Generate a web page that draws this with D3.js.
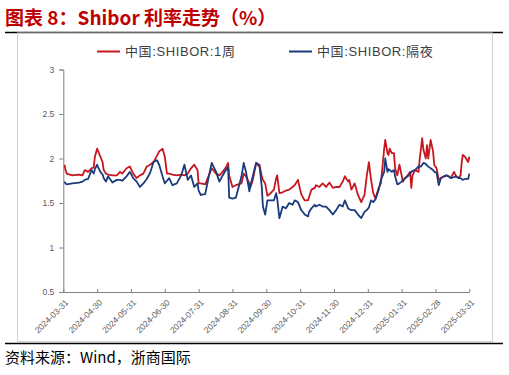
<!DOCTYPE html>
<html><head><meta charset="utf-8">
<script src="https://cdn.jsdelivr.net/npm/d3@7"></script>
<style>
html,body{margin:0;padding:0;background:#fff;}
svg{display:block;}
</style></head>
<body>
<svg id="chart" width="509" height="375"></svg>
<script>
const titleText = "图表 8：Shibor 利率走势（%）";
const sourceText = "资料来源：Wind，浙商国际";
const seriesNames = ["中国:SHIBOR:1周", "中国:SHIBOR:隔夜"];
const tickLabels = ["2024-03-31","2024-04-30","2024-05-31","2024-06-30","2024-07-31","2024-08-31","2024-09-30","2024-10-31","2024-11-30","2024-12-31","2025-01-31","2025-02-28","2025-03-31"];
const yTicks = [0.5, 1, 1.5, 2, 2.5, 3];

const dates = [
"2024-04-01","2024-04-02","2024-04-03","2024-04-08","2024-04-14","2024-04-17","2024-04-19","2024-04-22","2024-04-25","2024-04-27","2024-04-28","2024-04-30",
"2024-05-01","2024-05-03","2024-05-05","2024-05-06","2024-05-08","2024-05-10","2024-05-14","2024-05-18","2024-05-21","2024-05-23","2024-05-27","2024-05-30",
"2024-06-02","2024-06-05","2024-06-08","2024-06-11","2024-06-14","2024-06-17","2024-06-20","2024-06-23","2024-06-25","2024-06-28","2024-06-30",
"2024-07-02","2024-07-04","2024-07-07","2024-07-11","2024-07-15","2024-07-18","2024-07-21","2024-07-24","2024-07-27","2024-07-30","2024-07-31",
"2024-08-02","2024-08-06","2024-08-09","2024-08-12","2024-08-16","2024-08-19","2024-08-22","2024-08-25","2024-08-27","2024-08-28","2024-08-31",
"2024-09-03","2024-09-08","2024-09-10","2024-09-12","2024-09-15","2024-09-16","2024-09-18","2024-09-21","2024-09-24","2024-09-26","2024-09-27","2024-09-29",
"2024-10-01","2024-10-04","2024-10-07","2024-10-09","2024-10-10","2024-10-12","2024-10-15","2024-10-18","2024-10-21","2024-10-24","2024-10-26","2024-10-29","2024-10-31",
"2024-11-01","2024-11-03","2024-11-04","2024-11-07","2024-11-08","2024-11-10","2024-11-13","2024-11-14","2024-11-17","2024-11-20","2024-11-23","2024-11-26","2024-11-29",
"2024-12-02","2024-12-05","2024-12-08","2024-12-10","2024-12-13","2024-12-14","2024-12-16","2024-12-19","2024-12-22","2024-12-25","2024-12-28","2024-12-30",
"2025-01-01","2025-01-03","2025-01-05","2025-01-07","2025-01-10","2025-01-12","2025-01-15","2025-01-16","2025-01-18","2025-01-19","2025-01-20","2025-01-22","2025-01-24","2025-01-25","2025-01-27","2025-01-29","2025-01-31",
"2025-02-01","2025-02-03","2025-02-05","2025-02-07","2025-02-08","2025-02-09","2025-02-11","2025-02-14","2025-02-15","2025-02-16","2025-02-17","2025-02-18","2025-02-20","2025-02-21","2025-02-22","2025-02-23","2025-02-24","2025-02-26","2025-02-27",
"2025-03-01","2025-03-03","2025-03-05","2025-03-08","2025-03-10","2025-03-12","2025-03-14","2025-03-17","2025-03-19","2025-03-21","2025-03-23","2025-03-24","2025-03-25","2025-03-27","2025-03-30","2025-03-31"
];

const shibor1W = [
1.93,1.87,1.83,1.81,1.82,1.81,1.87,1.85,1.89,1.90,2.02,2.11,
2.08,2.02,1.96,1.87,1.83,1.82,1.81,1.81,1.85,1.83,1.89,1.91,
1.83,1.78,1.81,1.83,1.91,1.93,1.96,2.03,2.08,2.11,2.02,
1.83,1.83,1.82,1.81,1.82,1.81,1.83,1.89,1.93,1.87,1.72,
1.72,1.71,1.80,1.89,1.83,1.81,1.85,1.90,1.95,1.81,1.68,
1.70,1.72,1.83,1.80,1.72,1.68,1.76,1.95,1.93,1.80,1.76,1.72,
1.58,1.61,1.65,1.78,1.81,1.61,1.62,1.64,1.65,1.68,1.70,1.76,1.65,
1.60,1.55,1.53,1.53,1.57,1.65,1.67,1.70,1.68,1.72,1.68,1.73,1.67,
1.68,1.68,1.74,1.80,1.74,1.76,1.65,1.72,1.59,1.51,1.59,1.80,
1.96,1.76,1.61,1.55,1.67,1.72,2.11,2.21,2.06,2.04,2.11,2.06,2.06,1.89,1.81,1.93,1.81,
1.74,1.78,1.81,1.85,1.67,1.81,1.87,1.85,2.00,2.11,2.23,2.10,2.00,2.15,2.00,2.10,2.21,2.08,1.93,
1.89,1.76,1.78,1.80,1.81,1.80,1.78,1.85,1.80,1.78,1.81,1.95,2.04,2.02,1.96,2.02
];

const shiborON = [
1.74,1.72,1.71,1.72,1.73,1.74,1.76,1.77,1.87,1.83,1.88,1.93,
1.90,1.85,1.82,1.78,1.74,1.80,1.73,1.76,1.76,1.75,1.80,1.85,
1.78,1.74,1.68,1.72,1.77,1.84,1.96,1.98,1.93,1.80,1.72,
1.75,1.78,1.70,1.72,1.81,1.93,1.76,1.81,1.68,1.72,1.64,
1.59,1.60,1.78,1.95,1.85,1.74,1.81,1.87,1.90,1.56,1.55,
1.56,1.80,1.95,1.85,1.63,1.70,1.80,1.95,1.91,1.68,1.46,1.37,
1.53,1.53,1.53,1.61,1.55,1.33,1.46,1.44,1.50,1.48,1.53,1.51,1.45,
1.42,1.39,1.37,1.35,1.40,1.44,1.48,1.46,1.48,1.46,1.46,1.42,1.37,
1.42,1.48,1.46,1.53,1.44,1.43,1.42,1.42,1.37,1.33,1.40,1.42,
1.45,1.53,1.51,1.54,1.65,1.76,1.85,2.00,1.85,1.88,1.87,1.85,1.87,1.80,1.71,1.72,1.74,
1.76,1.78,1.80,1.83,1.85,1.86,1.87,1.91,1.91,1.91,1.93,1.95,1.94,1.92,1.91,1.90,1.89,1.87,1.85,
1.84,1.70,1.78,1.80,1.81,1.80,1.78,1.79,1.80,1.78,1.78,1.77,1.76,1.77,1.77,1.83
];

const colors = ["#C8161E", "#1B3A7C"];

const svg = d3.select("#chart");
svg.append("rect").attr("width",509).attr("height",375).attr("fill","#fff");

// title
svg.append("text").attr("x",5).attr("y",25)
  .attr("font-family","'Noto Sans CJK SC', sans-serif").attr("font-size",19).attr("font-weight","bold")
  .attr("fill","#C00000").text(titleText);

// frame lines
svg.append("line").attr("x1",5).attr("x2",503).attr("y1",32.5).attr("y2",32.5).attr("stroke","#000").attr("stroke-width",1.3);
svg.append("rect").attr("x",17.5).attr("y",33).attr("width",475).attr("height",308.5).attr("fill","none").attr("stroke","#d0d0d0").attr("stroke-width",1);
svg.append("line").attr("x1",5).attr("x2",503).attr("y1",343.5).attr("y2",343.5).attr("stroke","#000").attr("stroke-width",1.3);

svg.append("text").attr("x",5).attr("y",363)
  .attr("font-family","'Noto Sans CJK SC', sans-serif").attr("font-size",15)
  .attr("fill","#000").text(sourceText);

// scales
const x0 = 63.3, x1 = 469.3, yTop = 69.5, yBot = 292;
const x = d3.scaleLinear().domain([0, tickLabels.length - 1]).range([x0, x1]);
const y = d3.scaleLinear().domain([0.5, 3]).range([yBot, yTop]);

function monthPos(s) {
  const [yy, mm, dd] = s.split("-").map(Number);
  const days = new Date(yy, mm, 0).getDate();
  return (yy - 2024) * 12 + (mm - 4) + dd / days;
}

// axes
const yAxis = d3.axisLeft(y).tickValues(yTicks).tickFormat(d3.format("")).tickSize(4).tickPadding(5);
const gy = svg.append("g").attr("transform",`translate(${x0},0)`).call(yAxis);
gy.select(".domain").attr("stroke","#808080");
gy.selectAll(".tick line").attr("stroke","#808080");
gy.selectAll("text").attr("font-family","'Liberation Sans', Arial, sans-serif").attr("font-size",8.5).attr("fill","#595959");

const xAxis = d3.axisBottom(x).tickValues(d3.range(tickLabels.length)).tickFormat(i => tickLabels[i]).tickSize(-3).tickSizeOuter(0);
const gx = svg.append("g").attr("transform",`translate(0,${yBot})`).call(xAxis);
gx.select(".domain").attr("stroke","#808080");
gx.selectAll(".tick line").attr("stroke","#808080");
gx.selectAll("text")
  .attr("font-family","'Liberation Sans', Arial, sans-serif").attr("font-size",8.5).attr("fill","#595959")
  .attr("text-anchor","end").attr("dy","0.35em")
  .attr("transform","translate(3,9) rotate(-45)").attr("y",0).attr("x",0);

// lines
const series = [shibor1W, shiborON];
const line = d3.line().x(d => x(d[0])).y(d => y(d[1]));
series.forEach((vals, k) => {
  const pts = dates.map((dt, i) => [monthPos(dt), vals[i]]);
  svg.append("path").datum(pts).attr("d", line)
    .attr("fill","none").attr("stroke",colors[k]).attr("stroke-width",1.8)
    .attr("stroke-linejoin","round");
});

// legend
const legendX = [97, 289];
series.forEach((vals, k) => {
  const g = svg.append("g").attr("transform",`translate(${legendX[k]},51.5)`);
  g.append("line").attr("x1",0).attr("x2",23).attr("y1",0).attr("y2",0).attr("stroke",colors[k]).attr("stroke-width",2);
  g.append("text").attr("x",28).attr("y",4.5)
    .attr("font-family","'Liberation Sans', 'Noto Sans CJK SC', sans-serif").attr("font-size",13)
    .attr("letter-spacing","0.6px")
    .attr("fill","#404040").text(seriesNames[k]);
});
</script>
</body></html>
